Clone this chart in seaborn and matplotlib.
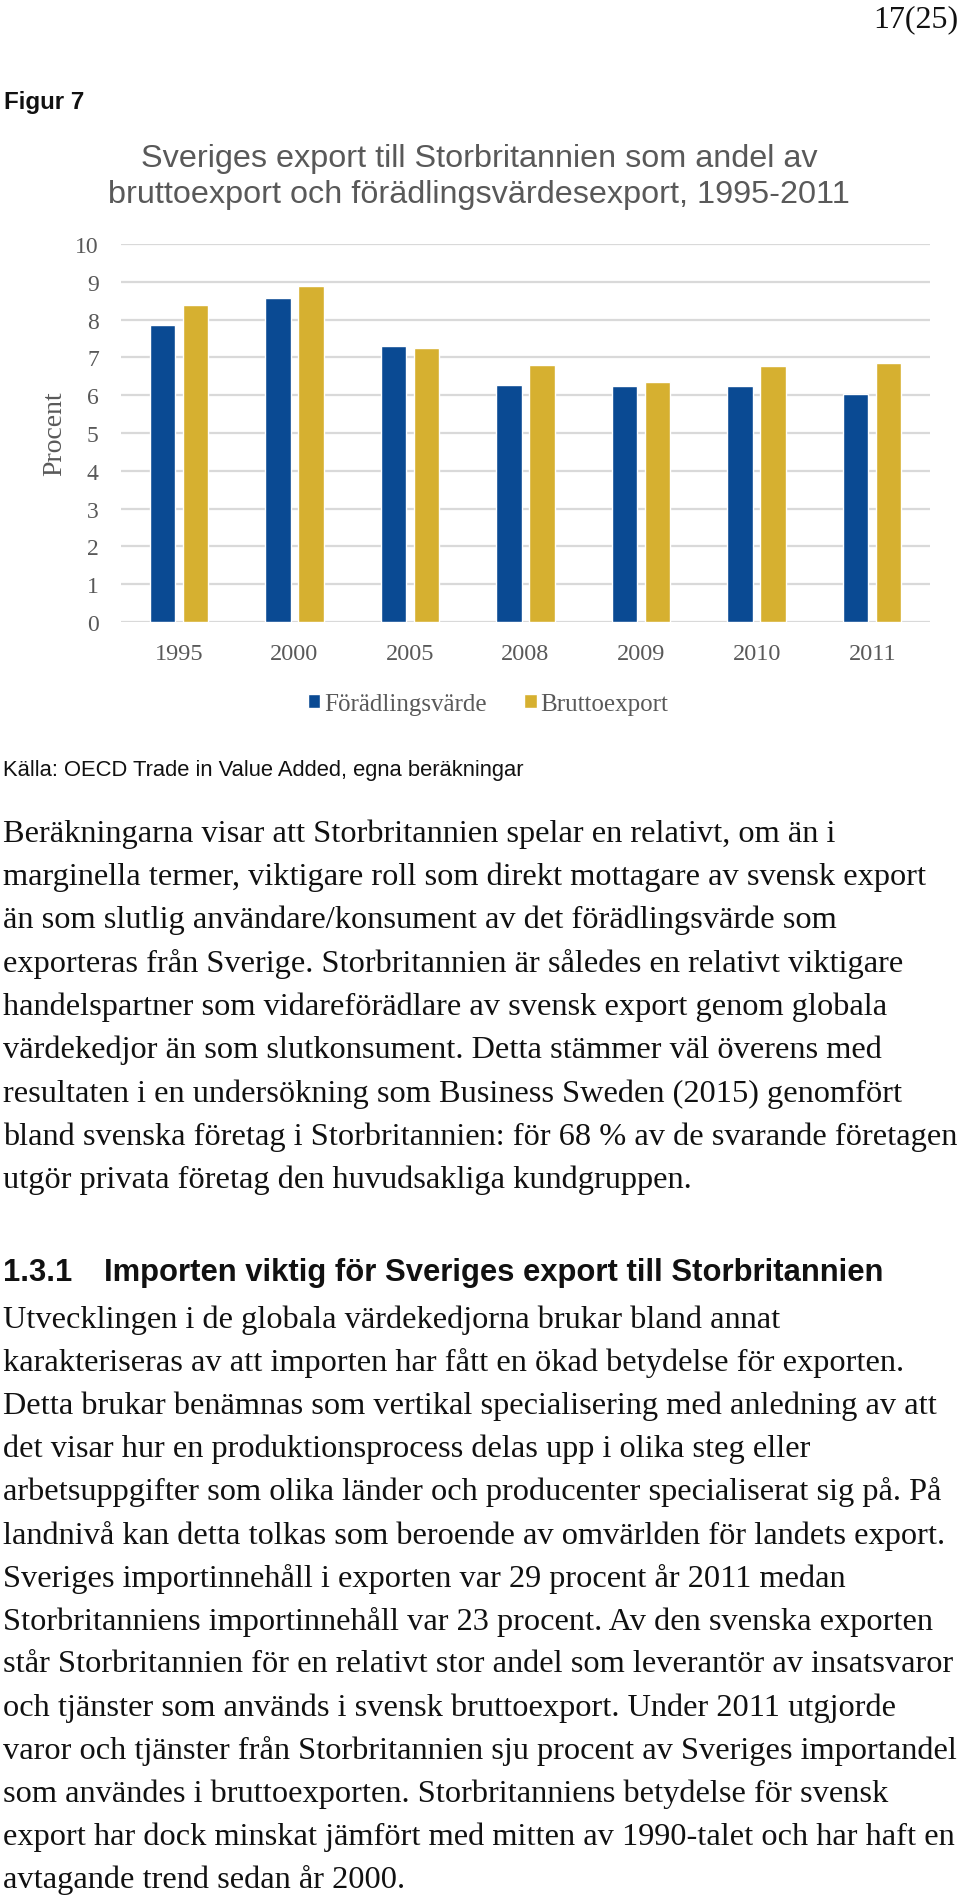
import matplotlib
matplotlib.use("Agg")
import matplotlib.pyplot as plt
import seaborn as sns
import pandas as pd

# ---------------- data ----------------
years = ["1995", "2000", "2005", "2008", "2009", "2010", "2011"]
foradlingsvarde = [7.86, 8.58, 7.31, 6.26, 6.25, 6.25, 6.04]
bruttoexport = [8.38, 8.88, 7.25, 6.79, 6.34, 6.77, 6.85]
series_names = ["Förädlingsvärde", "Bruttoexport"]
y_ticks = [0, 1, 2, 3, 4, 5, 6, 7, 8, 9, 10]

page_number = "17(25)"
figure_label = "Figur 7"
chart_title = ["Sveriges export till Storbritannien som andel av",
               "bruttoexport och förädlingsvärdesexport, 1995-2011"]
y_label = "Procent"
source_text = "Källa: OECD Trade in Value Added, egna beräkningar"

paragraph1 = [
    "Beräkningarna visar att Storbritannien spelar en relativt, om än i",
    "marginella termer, viktigare roll som direkt mottagare av svensk export",
    "än som slutlig användare/konsument av det förädlingsvärde som",
    "exporteras från Sverige. Storbritannien är således en relativt viktigare",
    "handelspartner som vidareförädlare av svensk export genom globala",
    "värdekedjor än som slutkonsument. Detta stämmer väl överens med",
    "resultaten i en undersökning som Business Sweden (2015) genomfört",
    "bland svenska företag i Storbritannien: för 68 % av de svarande företagen",
    "utgör privata företag den huvudsakliga kundgruppen.",
]
heading_number = "1.3.1"
heading_text = "Importen viktig för Sveriges export till Storbritannien"
paragraph2 = [
    "Utvecklingen i de globala värdekedjorna brukar bland annat",
    "karakteriseras av att importen har fått en ökad betydelse för exporten.",
    "Detta brukar benämnas som vertikal specialisering med anledning av att",
    "det visar hur en produktionsprocess delas upp i olika steg eller",
    "arbetsuppgifter som olika länder och producenter specialiserat sig på. På",
    "landnivå kan detta tolkas som beroende av omvärlden för landets export.",
    "Sveriges importinnehåll i exporten var 29 procent år 2011 medan",
    "Storbritanniens importinnehåll var 23 procent. Av den svenska exporten",
    "står Storbritannien för en relativt stor andel som leverantör av insatsvaror",
    "och tjänster som används i svensk bruttoexport. Under 2011 utgjorde",
    "varor och tjänster från Storbritannien sju procent av Sveriges importandel",
    "som användes i bruttoexporten. Storbritanniens betydelse för svensk",
    "export har dock minskat jämfört med mitten av 1990-talet och har haft en",
    "avtagande trend sedan år 2000.",
]

# ---------------- styling ----------------
sns.set_theme(style="white")
plt.rcParams["font.family"] = ["Liberation Serif", "DejaVu Serif"]

W, H = 960, 1899
fig = plt.figure(figsize=(W / 100, H / 100), dpi=100)
fig.patch.set_facecolor("white")

def fx(px):
    return px / W

def fy(py):
    return 1 - py / H

GRAY = "#595959"
BLUE = "#0A4A93"
GOLD = "#D6B030"
SANS = ["Liberation Sans", "DejaVu Sans"]

# ---------------- chart ----------------
ax_left, ax_right, ax_top, ax_bottom = 121, 930, 245, 623
ax = fig.add_axes([fx(ax_left), fy(ax_bottom), fx(ax_right - ax_left),
                   (ax_bottom - ax_top) / H])

df = pd.DataFrame({
    "År": years * 2,
    "Värde": foradlingsvarde + bruttoexport,
    "Serie": [series_names[0]] * len(years) + [series_names[1]] * len(years),
})
sns.barplot(data=df, x="År", y="Värde", hue="Serie", order=years,
            hue_order=series_names, palette=[BLUE, GOLD], width=0.57, gap=0.23,
            saturation=1, ax=ax, legend=True, zorder=3)

ax.set_ylim(0, 10)
ax.set_yticks(y_ticks)
ax.set_xlabel("")
ax.set_ylabel(y_label, fontsize=20, color=GRAY, labelpad=6)
ax.yaxis.grid(True, color="#D9D9D9", linewidth=1.6, zorder=0)
ax.set_axisbelow(True)
for s in ax.spines.values():
    s.set_visible(False)
ax.tick_params(axis="y", length=0, pad=16, labelsize=17, labelcolor=GRAY)
ax.tick_params(axis="x", length=0, pad=15, labelsize=17.5, labelcolor=GRAY)

handles, labels = ax.get_legend_handles_labels()
ax.get_legend().remove()
leg = fig.legend(handles, labels, loc="center",
                 bbox_to_anchor=(fx(488), fy(705)), ncol=2, frameon=False,
                 fontsize=18, handlelength=0.5, handleheight=0.5,
                 handletextpad=0.15, columnspacing=1.5)
for t in leg.get_texts():
    t.set_color(GRAY)

# chart title
for i, line in enumerate(chart_title):
    fig.text(fx(479), fy(159 + i * 36), line, ha="center", va="center",
             fontsize=23.3, color=GRAY, family=SANS)

# ---------------- page text ----------------
fig.text(fx(958), fy(20), page_number, ha="right", va="center",
         fontsize=23, color="#111111")
fig.text(fx(4), fy(103), figure_label, ha="left", va="center",
         fontsize=17.4, fontweight="bold", color="#111111", family=SANS)
fig.text(fx(3), fy(771), source_text, ha="left", va="center",
         fontsize=15.8, color="#111111", family=SANS)

body_fs = 23.3
for i, line in enumerate(paragraph1):
    fig.text(fx(3), fy(834 + i * 43.3), line, ha="left", va="center",
             fontsize=body_fs, color="#111111")

fig.text(fx(3), fy(1273), heading_number, ha="left", va="center",
         fontsize=22.3, fontweight="bold", color="#111111", family=SANS)
fig.text(fx(104), fy(1273), heading_text, ha="left", va="center",
         fontsize=22.3, fontweight="bold", color="#111111", family=SANS)

for i, line in enumerate(paragraph2):
    fig.text(fx(3), fy(1320 + i * 43.1), line, ha="left", va="center",
             fontsize=body_fs, color="#111111")

fig.savefig("out.png", dpi=100, facecolor="white")
